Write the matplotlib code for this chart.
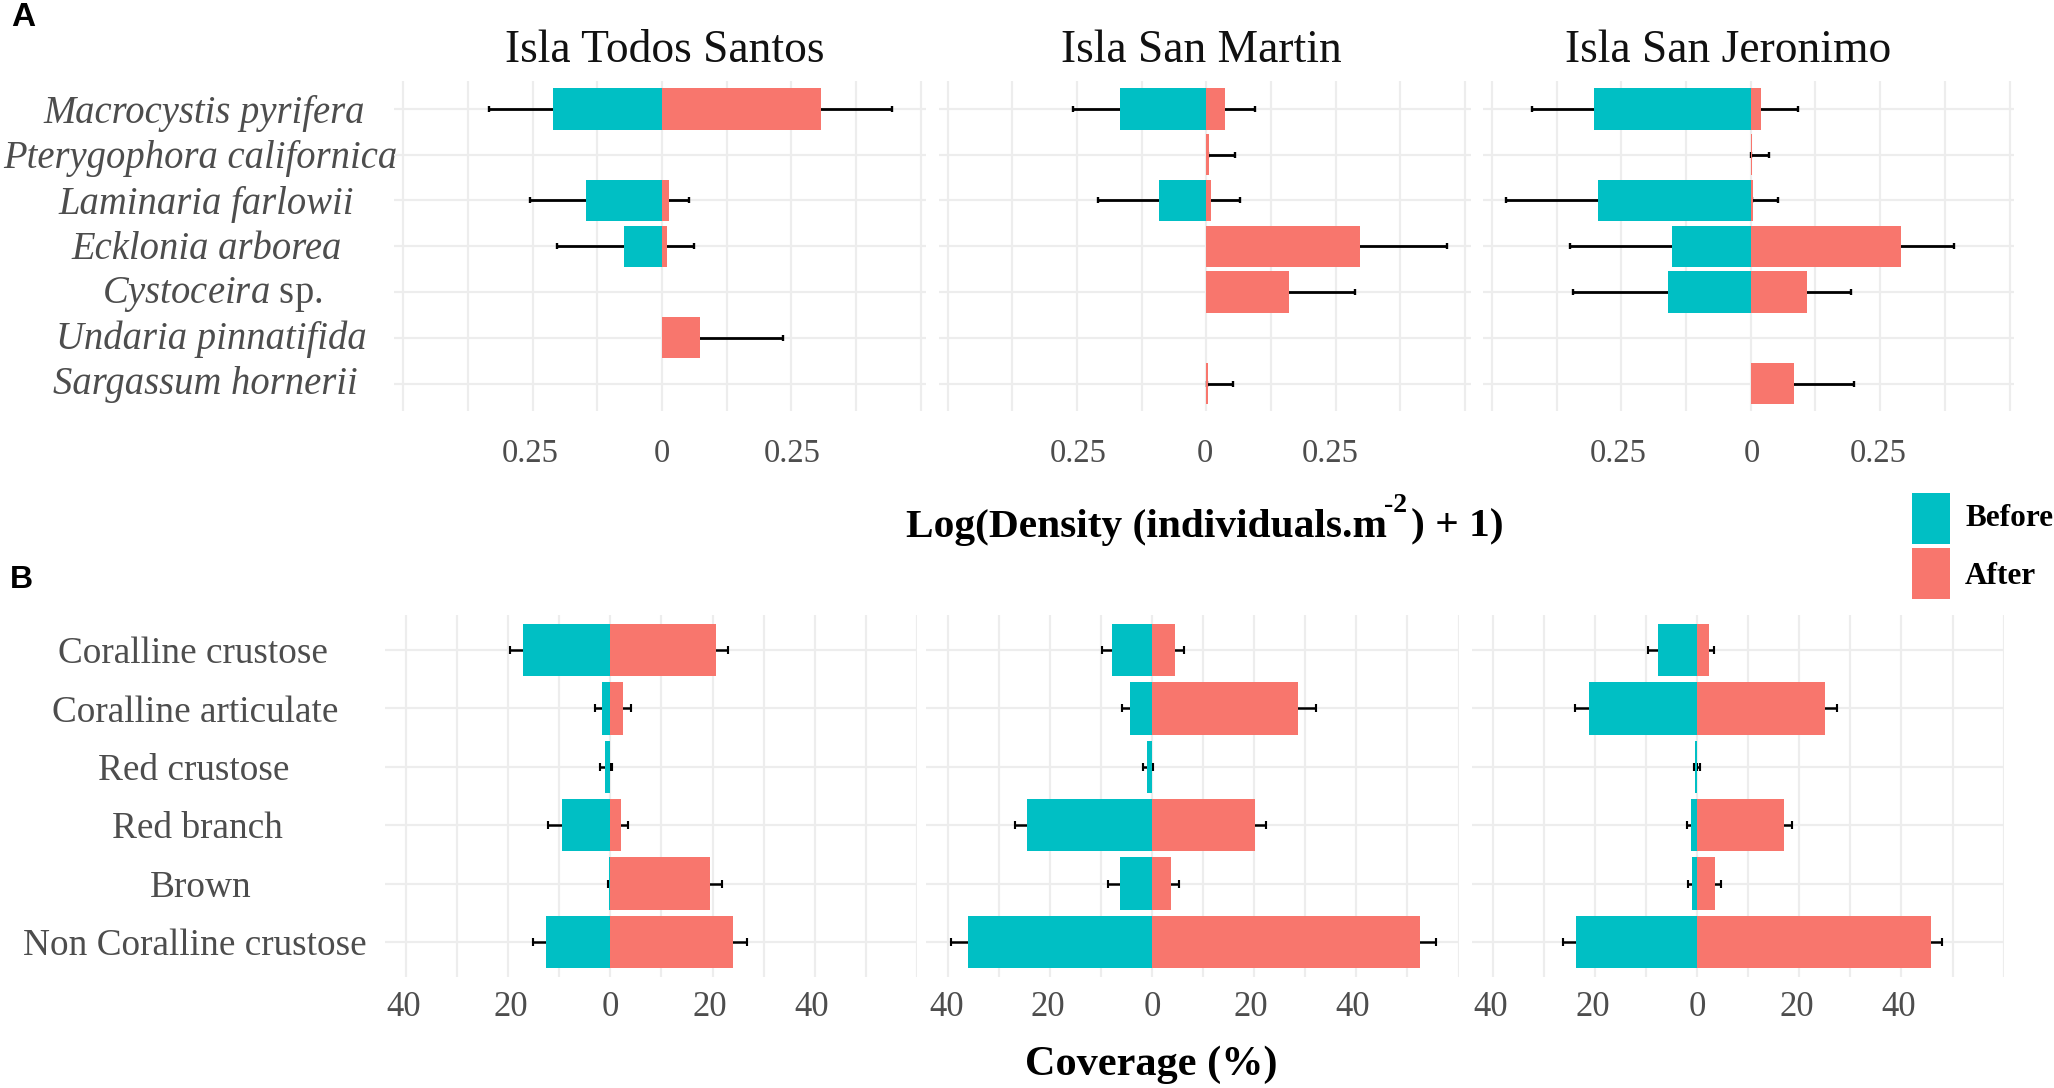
import numpy as np
import matplotlib
matplotlib.use('Agg')
import matplotlib.pyplot as plt
from matplotlib.patches import Rectangle

plt.rcParams['font.family'] = ['Liberation Serif', 'DejaVu Serif']
plt.rcParams['mathtext.fontset'] = 'custom'
plt.rcParams['mathtext.rm'] = 'Liberation Serif'
plt.rcParams['mathtext.it'] = 'Liberation Serif:italic'

W, H = 2054, 1088
NA = np.nan

# ---- panel A: density ----
species = ['Macrocystis pyrifera', 'Pterygophora californica', 'Laminaria farlowii',
           'Ecklonia arborea', r'$\mathit{Cystoceira}$ sp.', 'Undaria pinnatifida',
           'Sargassum hornerii']
islands = ['Isla Todos Santos', 'Isla San Martin', 'Isla San Jeronimo']

todos_before = [-0.210, NA, -0.146, -0.074, NA, NA, NA]
todos_before_end = [-0.335, NA, -0.255, -0.202, NA, NA, NA]
todos_after = [0.308, NA, 0.014, 0.009, NA, 0.074, NA]
todos_after_end = [0.444, NA, 0.052, 0.061, NA, 0.233, NA]

martin_before = [-0.1675, NA, -0.091, NA, NA, NA, NA]
martin_before_end = [-0.257, NA, -0.210, NA, NA, NA, NA]
martin_after = [0.036, 0.005, 0.008, 0.297, 0.160, NA, 0.004]
martin_after_end = [0.0935, 0.055, 0.065, 0.464, 0.287, NA, 0.052]

jeronimo_before = [-0.3026, NA, -0.296, -0.153, -0.160, NA, NA]
jeronimo_before_end = [-0.423, NA, -0.473, -0.350, -0.344, NA, NA]
jeronimo_after = [0.0195, 0.0026, 0.005, 0.291, 0.108, NA, 0.084]
jeronimo_after_end = [0.091, 0.036, 0.053, 0.392, 0.193, NA, 0.200]

# ---- panel B: coverage ----
groups = ['Coralline crustose', 'Coralline articulate', 'Red crustose', 'Red branch',
          'Brown', 'Non Coralline crustose']

cov_todos_before = [-17.1, -1.6, -1.1, -9.5, -0.2, -12.6]
cov_todos_before_end = [-19.6, -3.0, -2.1, -12.1, -0.5, -15.2]
cov_todos_after = [20.7, 2.5, 0.0, 2.1, 19.5, 24.1]
cov_todos_after_end = [23.1, 4.1, 0.27, 3.4, 21.8, 26.7]

cov_martin_before = [-7.75, -4.3, -0.9, -24.4, -6.3, -36.0]
cov_martin_before_end = [-9.85, -5.9, -1.8, -26.8, -8.5, -39.3]
cov_martin_after = [4.47, 28.5, 0.0, 20.1, 3.8, 52.4]
cov_martin_after_end = [6.2, 32.1, 0.2, 22.3, 5.3, 55.6]

cov_jeronimo_before = [-7.6, -21.2, -0.3, -1.2, -0.9, -23.7]
cov_jeronimo_before_end = [-9.6, -23.8, -0.65, -2.0, -1.7, -26.3]
cov_jeronimo_after = [2.4, 25.0, 0.0, 17.0, 3.6, 45.7]
cov_jeronimo_after_end = [3.4, 27.4, 0.65, 18.6, 4.6, 48.0]

COL_BEFORE = '#00BFC4'
COL_AFTER = '#F8766D'
GRID = '#EDEDED'
TICK = '#4D4D4D'

fig = plt.figure(figsize=(W / 100, H / 100), dpi=100, facecolor='white')


def fx(px):
    return px / W


def fy(py):
    return 1 - py / H


def make_panel(box, zero, px_unit, ylim, grid_ticks, n_rows):
    left, right, top, bottom = box
    ax = fig.add_axes([fx(left), fy(bottom), (right - left) / W, (bottom - top) / H])
    ax.set_xlim((left - zero) / px_unit, (right - zero) / px_unit)
    ax.set_ylim(*ylim)
    # grid comes from minor ticks, the printed labels sit a bit off the grid in the original
    ax.xaxis.remove_overlapping_locs = False
    ax.yaxis.remove_overlapping_locs = False
    ax.set_xticks(grid_ticks, minor=True)
    ax.set_yticks(np.arange(n_rows), minor=True)
    ax.grid(True, which='minor', axis='both', color=GRID, lw=1.6)
    ax.grid(False, which='major')
    ax.set_axisbelow(True)
    ax.tick_params(which='both', length=0)
    for s in ax.spines.values():
        s.set_visible(False)
    return ax


def draw_bars(ax, before, before_end, after, after_end, height, cap, lw):
    for vals, ends, col in [(before, before_end, COL_BEFORE), (after, after_end, COL_AFTER)]:
        vals = np.array(vals, dtype=float)
        ends = np.array(ends, dtype=float)
        y = np.arange(len(vals))
        ok = ~np.isnan(vals)
        ax.barh(y[ok], vals[ok], height=height, color=col, zorder=3)
        # inner whisker ends inside the bar, so that cap stays hidden
        inner = np.abs(vals[ok]) / 2
        low = np.where(vals[ok] < 0, vals[ok] - ends[ok], inner)
        high = np.where(vals[ok] < 0, inner, ends[ok] - vals[ok])
        ax.errorbar(vals[ok], y[ok], xerr=[low, high], fmt='none', ecolor='black',
                    elinewidth=lw, capsize=cap, capthick=lw * 0.85, zorder=2.5)


def label_rows(ax, labels, ypos, centers_px, box_left, size, italic):
    ax.set_yticks(ypos, labels, ha='center', fontsize=size, color=TICK)
    for tick, c in zip(ax.yaxis.get_major_ticks(), centers_px):
        tick.set_pad((box_left - c) * 0.72)
        if italic and 'mathit' not in tick.label1.get_text():
            tick.label1.set_fontstyle('italic')


# ---- panel A ----
a_data = [(todos_before, todos_before_end, todos_after, todos_after_end),
          (martin_before, martin_before_end, martin_after, martin_after_end),
          (jeronimo_before, jeronimo_before_end, jeronimo_after, jeronimo_after_end)]
a_boxes = [(394, 926), (939, 1470.5), (1482.6, 2013.6)]
a_zero = [662, 1206.4, 1750.8]
a_ticks = [[-0.255, 0, 0.251], [-0.248, -0.003, 0.24], [-0.257, 0.003, 0.247]]
a_title_x = [664.5, 1201, 1728]
a_centers = [204, 200, 206, 207, 212, 211, 205]
a_label_y = [0, 0.98, 1.98, 2.98, 3.93, 4.93, 5.93]
a_grid = np.arange(-0.5, 0.501, 0.125)

for i in range(3):
    ax = make_panel((a_boxes[i][0], a_boxes[i][1], 81.5, 411), a_zero[i], 517.5,
                    (6.6, -0.6), a_grid, len(species))
    draw_bars(ax, *a_data[i], height=0.9, cap=2.5, lw=2.0)
    ax.set_xticks(a_ticks[i], ['0.25', '0', '0.25'], fontsize=23.5, color=TICK)
    ax.tick_params(axis='x', pad=19.5)
    if i == 0:
        label_rows(ax, species, a_label_y, a_centers, a_boxes[0][0], 27.8, True)
    else:
        ax.set_yticks([])
    fig.text(fx(a_title_x[i]), fy(50.5), islands[i], fontsize=32.8, ha='center', va='center',
             color='#111111')

# ---- panel B ----
b_data = [(cov_todos_before, cov_todos_before_end, cov_todos_after, cov_todos_after_end),
          (cov_martin_before, cov_martin_before_end, cov_martin_after, cov_martin_after_end),
          (cov_jeronimo_before, cov_jeronimo_before_end, cov_jeronimo_after, cov_jeronimo_after_end)]
b_boxes = [(385, 917), (926, 1458.5), (1471.9, 2003.6)]
b_zero = [610.3, 1151.9, 1697]
b_ticks = [[-40.4, -19.5, 0.1, 19.5, 39.5], [-40.2, -20.4, 0, 19.4, 39.3],
           [-40.3, -20.4, 0.1, 19.5, 39.5]]
b_centers = [193, 195, 194, 197, 201, 195]
b_grid = np.arange(-40, 61, 10)

for i in range(3):
    ax = make_panel((b_boxes[i][0], b_boxes[i][1], 615, 977), b_zero[i], 5.11,
                    (5.6, -0.6), b_grid, len(groups))
    draw_bars(ax, *b_data[i], height=0.9, cap=2.9, lw=1.8)
    ax.set_xticks(b_ticks[i], ['40', '20', '0', '20', '40'], fontsize=25, color=TICK)
    ax.tick_params(axis='x', pad=10)
    if i == 0:
        label_rows(ax, groups, np.arange(len(groups)), b_centers, b_boxes[0][0], 26.8, False)
    else:
        ax.set_yticks([])

# ---- axis titles, panel letters ----
fig.text(fx(905.5), fy(527), 'Log(Density (individuals.m', fontsize=29.8, fontweight='bold',
         ha='left', va='center')
fig.text(fx(1395.5), fy(505), '-2', fontsize=20, fontweight='bold', ha='center', va='center')
fig.text(fx(1504), fy(527), ') + 1)', fontsize=29.8, fontweight='bold', ha='right', va='center')
fig.text(fx(1151), fy(1065), 'Coverage (%)', fontsize=30.4, fontweight='bold', ha='center', va='center')

fig.text(fx(23), fy(18), 'A', fontsize=24, fontweight='bold', family='Liberation Sans',
         ha='center', va='center')
fig.text(fx(21), fy(580), 'B', fontsize=23, fontweight='bold', family='Liberation Sans',
         ha='center', va='center')

# ---- legend ----
fig.add_artist(Rectangle((fx(1912), fy(543.5)), 38 / W, 51 / H, transform=fig.transFigure,
                         color=COL_BEFORE, lw=0))
fig.add_artist(Rectangle((fx(1912), fy(598.7)), 38 / W, 50.7 / H, transform=fig.transFigure,
                         color=COL_AFTER, lw=0))
fig.text(fx(1965), fy(518), 'Before', fontsize=22.5, fontweight='bold', ha='left', va='center')
fig.text(fx(1965), fy(576), 'After', fontsize=22.5, fontweight='bold', ha='left', va='center')

fig.savefig('out.png', dpi=100)
